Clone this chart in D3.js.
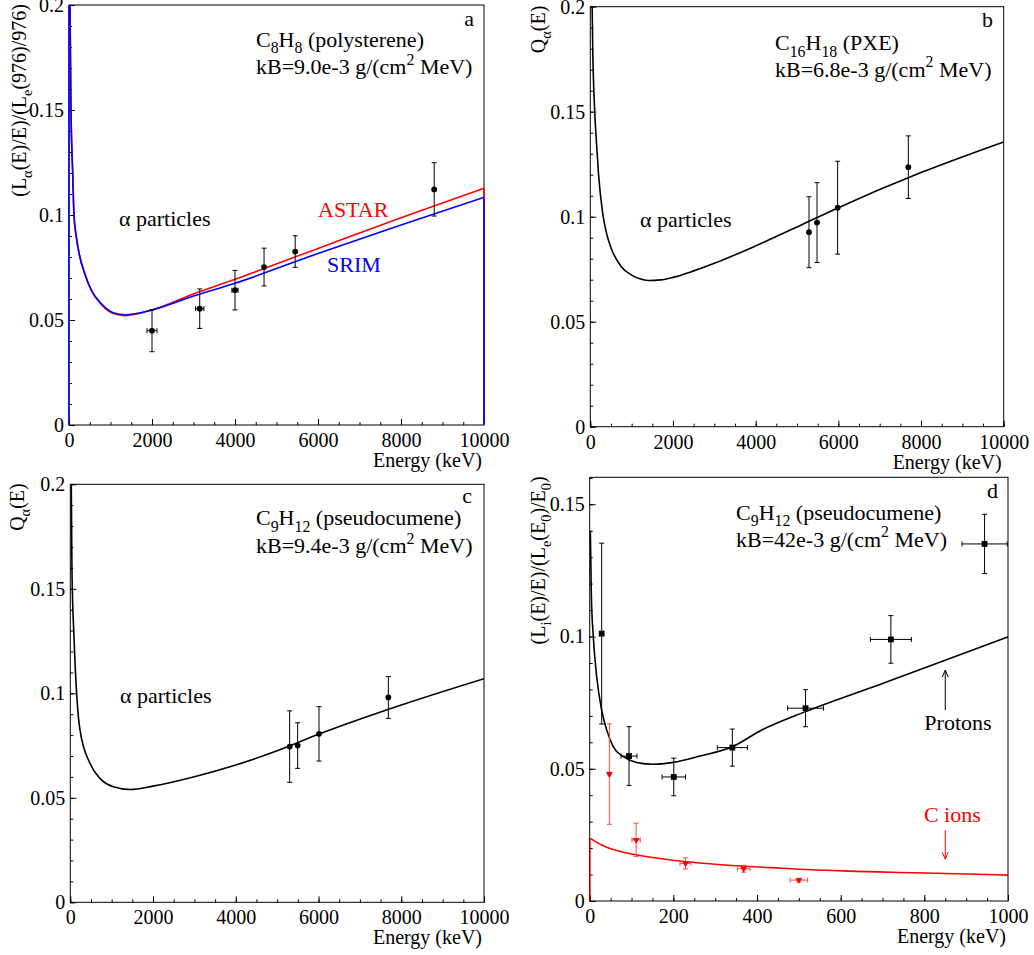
<!DOCTYPE html>
<html>
<head>
<meta charset="utf-8">
<script src="https://cdn.jsdelivr.net/npm/d3@7"></script>
<style>
	body { margin: 0; background: #fff; }
	svg { display: block; }
	text { font-family: "Liberation Serif", "Times New Roman", serif; }
</style>
</head>
<body>
<svg id="chart" width="1034" height="955"></svg>
<script>
// tick labels
var alphaTicksE = [0, 2000, 4000, 6000, 8000, 10000];
var alphaTicksQ = [0, 0.05, 0.1, 0.15, 0.2];
var ionTicksE = [0, 200, 400, 600, 800, 1000];
var ionTicksQ = [0, 0.05, 0.1, 0.15];

// panel a : C8H8, alpha particles
var polyE = [2000, 3150, 4000, 4700, 5450, 8800];
var polyQ = [0.0449, 0.0554, 0.0642, 0.0752, 0.0826, 0.1122];
var polyErrE = [120, 100, 75, 0, 0, 0];
var polyErrQ = [0.0100, 0.0094, 0.0094, 0.0090, 0.0075, 0.0127];
var polyCurveE = [12, 24, 48, 89, 120, 169, 248, 386, 546, 787, 1068, 1350, 2000, 3000, 4000, 6000, 8000, 10000];
var astarQ = [0.26, 0.2, 0.15, 0.12, 0.1, 0.0905, 0.0811, 0.0716, 0.0637, 0.0572, 0.0531, 0.0521, 0.0548, 0.0624, 0.0694, 0.0841, 0.0987, 0.1127];
var srimQ = [0.26, 0.2, 0.15, 0.12, 0.1, 0.0907, 0.0813, 0.0718, 0.064, 0.0576, 0.0535, 0.0525, 0.0548, 0.0614, 0.0675, 0.0817, 0.0952, 0.1084];

// panel b : C16H18 (PXE)
var pxeE = [5290, 5484, 5983, 7693];
var pxeQ = [0.0926, 0.0972, 0.1043, 0.1236];
var pxeErrQ = [0.0169, 0.0190, 0.0221, 0.0149];
var pxeCurveE = [30, 45, 60, 100, 150, 200, 300, 400, 500, 750, 1000, 1200, 1400, 1700, 2000, 2500, 3000, 4000, 5000, 6000, 8000, 10000];
var pxeCurveQ = [0.22, 0.2, 0.179, 0.153, 0.135, 0.12, 0.1016, 0.0915, 0.0852, 0.0762, 0.0722, 0.0704, 0.0696, 0.0699, 0.0711, 0.0742, 0.0778, 0.0861, 0.0951, 0.1043, 0.121, 0.1356];

// panel c : C9H12 (pseudocumene), alphas
var pcE = [5303, 5496, 6012, 7688];
var pcQ = [0.0745, 0.0750, 0.0806, 0.0980];
var pcErrQ = [0.0171, 0.0109, 0.0130, 0.0100];
var pcCurveE = [20, 40, 89, 169, 234, 475, 717, 1040, 1442, 2000, 3000, 4000, 5000, 6000, 8000, 10000];
var pcCurveQ = [0.21, 0.159, 0.127, 0.0952, 0.0825, 0.0665, 0.0593, 0.0553, 0.054, 0.0556, 0.0601, 0.0657, 0.0725, 0.0804, 0.0944, 0.107];

// panel d : protons and C ions
var protonE = [28.6, 94, 201, 341, 516, 720, 944];
var protonQ = [0.1011, 0.0548, 0.0469, 0.0580, 0.0729, 0.0989, 0.1350];
var protonErrE = [4, 19, 28, 36, 43, 49, 54];
var protonErrQ = [0.0342, 0.0111, 0.0071, 0.0070, 0.0070, 0.0090, 0.0112];
var protonCurveE = [1.5, 4, 8.6, 16.7, 28.6, 40.6, 56.5, 80.5, 112, 152, 200, 264, 341, 407, 516, 700, 1000];
var protonCurveQ = [0.14, 0.115, 0.1, 0.0848, 0.0722, 0.0647, 0.0583, 0.0546, 0.0524, 0.0517, 0.0524, 0.0548, 0.0583, 0.0643, 0.0716, 0.0822, 0.0999];

var carbonE = [47, 111, 229, 368, 500];
var carbonQ = [0.0480, 0.0231, 0.0142, 0.0122, 0.0079];
var carbonErrE = [3, 10, 13, 15, 21];
var carbonErrQ = [0.0190, 0.0063, 0.0021, 0.0013, 0.0007];
var carbonCurveE = [1.5, 28.6, 60.5, 100, 180, 300, 459, 618, 778, 1000];
var carbonCurveQ = [0.0237, 0.0212, 0.0193, 0.0178, 0.0158, 0.0139, 0.0124, 0.0113, 0.0107, 0.0098];

var RED = "#ff0000";
var BLUE = "#0000ff";
var TICK_FONT = 20;
var NOTE_FONT = 22;

var svg = d3.select("#chart");

function formatQ(d) {
	return d == 0 ? "0" : String(+d.toFixed(2));
}

// text with sub/superscripts: parts = [[string, ""|"sub"|"sup"], ...]
function richText(sel, parts, size) {
	var shift = 0;
	parts.forEach(function(pt) {
		var target = pt[1] == "sub" ? size * 0.3 : (pt[1] == "sup" ? -size * 0.42 : 0);
		var t = sel.append("tspan")
			.attr("dy", target - shift)
			.text(pt[0]);
		if( pt[1] ) {
			t.attr("font-size", size * 0.72);
		}
		shift = target;
	});
}

function drawFrame(p) {
	p.x = d3.scaleLinear().domain(p.xDomain).range([p.left, p.right]);
	p.y = d3.scaleLinear().domain(p.yDomain).range([p.bottom, p.top]);
	p.g = svg.append("g").attr("id", "panel_" + p.name);

	p.g.append("clipPath")
		.attr("id", "clip_" + p.name)
		.append("rect")
			.attr("x", p.left)
			.attr("y", p.top)
			.attr("width", p.right - p.left)
			.attr("height", p.bottom - p.top);

	// minor ticks, pointing into the frame
	p.g.append("g")
		.attr("transform", "translate(0," + p.bottom + ")")
		.call(d3.axisBottom(p.x).tickValues(p.xMinor).tickSize(-3).tickFormat(""))
		.call(function(g) { g.select(".domain").remove(); });
	p.g.append("g")
		.attr("transform", "translate(" + p.left + ",0)")
		.call(d3.axisLeft(p.y).tickValues(p.yMinor).tickSize(-3).tickFormat(""))
		.call(function(g) { g.select(".domain").remove(); });

	var xa = p.g.append("g")
		.attr("transform", "translate(0," + p.bottom + ")")
		.call(d3.axisBottom(p.x).tickValues(p.xTicks).tickSizeInner(-6).tickSizeOuter(0).tickPadding(8).tickFormat(d3.format("d")));
	var ya = p.g.append("g")
		.attr("transform", "translate(" + p.left + ",0)")
		.call(d3.axisLeft(p.y).tickValues(p.yTicks).tickSizeInner(-6).tickSizeOuter(0).tickPadding(5).tickFormat(formatQ));
	[xa, ya].forEach(function(a) {
		a.attr("font-size", TICK_FONT)
			.attr("font-family", "Liberation Serif, serif");
		a.selectAll("text").attr("fill", "#000");
		a.select(".domain").remove();
	});

	p.g.append("rect")
		.attr("x", p.left)
		.attr("y", p.top)
		.attr("width", p.right - p.left)
		.attr("height", p.bottom - p.top)
		.attr("fill", "none")
		.attr("stroke", "#000")
		.attr("stroke-width", 1);

	// axis titles
	p.g.append("text")
		.attr("x", p.right - 2)
		.attr("y", p.bottom + 42)
		.attr("text-anchor", "end")
		.attr("font-size", TICK_FONT)
		.attr("fill", "#000")
		.text("Energy (keV)");

	var yt = p.g.append("text")
		.attr("transform", "translate(" + p.yTitleX + "," + (p.top - 1) + ") rotate(-90)")
		.attr("text-anchor", "end")
		.attr("font-size", TICK_FONT)
		.attr("fill", "#000");
	richText(yt, p.yTitle, TICK_FONT);
}

function drawCurve(p, es, qs, color) {
	var line = d3.line()
		.x(function(d) { return p.x(d[0]); })
		.y(function(d) { return p.y(d[1]); })
		.curve(d3.curveMonotoneX);
	p.g.append("path")
		.datum(d3.zip(es, qs))
		.attr("clip-path", "url(#clip_" + p.name + ")")
		.attr("d", line)
		.attr("fill", "none")
		.attr("stroke", color)
		.attr("stroke-width", 1.6);
}

// vertical drop of a curve to zero at energy e
function drawDrop(p, e, q, color) {
	p.g.append("line")
		.attr("x1", p.x(e)).attr("x2", p.x(e))
		.attr("y1", p.y(q)).attr("y2", p.y(0))
		.attr("stroke", color)
		.attr("stroke-width", 1.6);
}

function drawPoints(p, es, qs, errE, errQ, color, shape, barColor) {
	var cap = 2.5;
	var pts = es.map(function(e, i) {
		return {e: e, q: qs[i], de: errE ? errE[i] : 0, dq: errQ[i]};
	});
	var bars = p.g.append("g")
		.attr("stroke", barColor || color)
		.attr("stroke-width", 1)
		.attr("fill", "none");
	pts.forEach(function(d) {
		var cx = p.x(d.e), cy = p.y(d.q);
		var y1 = p.y(d.q - d.dq), y2 = p.y(d.q + d.dq);
		var path = "M" + cx + "," + y1 + "V" + y2 +
			"M" + (cx - cap) + "," + y1 + "H" + (cx + cap) +
			"M" + (cx - cap) + "," + y2 + "H" + (cx + cap);
		if( d.de > 0 ) {
			var x1 = p.x(d.e - d.de), x2 = p.x(d.e + d.de);
			path += "M" + x1 + "," + cy + "H" + x2 +
				"M" + x1 + "," + (cy - cap) + "V" + (cy + cap) +
				"M" + x2 + "," + (cy - cap) + "V" + (cy + cap);
		}
		bars.append("path").attr("d", path);
	});

	var sym = shape == "square" ? d3.symbol(d3.symbolSquare, 34) :
		(shape == "triangle" ? d3.symbol(d3.symbolTriangle, 20) : d3.symbol(d3.symbolCircle, 26));
	p.g.append("g")
		.selectAll("path")
		.data(pts)
		.enter().append("path")
			.attr("d", sym)
			.attr("transform", function(d) {
				return "translate(" + p.x(d.e) + "," + p.y(d.q) + ")" + (shape == "triangle" ? " rotate(180)" : "");
			})
			.attr("fill", color);
}

function drawNote(p, e, q, parts, color, anchor, size) {
	var t = p.g.append("text")
		.attr("x", p.x(e))
		.attr("y", p.y(q))
		.attr("text-anchor", anchor || "start")
		.attr("font-size", size || NOTE_FONT)
		.attr("fill", color || "#000");
	richText(t, parts, size || NOTE_FONT);
}

function drawArrow(p, e, qFrom, qTo, color) {
	var x = p.x(e), y1 = p.y(qFrom), y2 = p.y(qTo);
	var dir = y2 < y1 ? 1 : -1;
	p.g.append("path")
		.attr("d", "M" + x + "," + y1 + "V" + y2 +
			"M" + (x - 3) + "," + (y2 + dir * 7) + "L" + x + "," + y2 + "L" + (x + 3) + "," + (y2 + dir * 7))
		.attr("fill", "none")
		.attr("stroke", color)
		.attr("stroke-width", 1);
}

var alphaMinorE = d3.range(0, 10001, 500);
var alphaMinorQ = d3.range(0, 21).map(function(i) { return i / 100; });

var panelA = {name: "a", left: 69, right: 484, top: 5, bottom: 425,
	xDomain: [0, 10000], yDomain: [0, 0.2], xTicks: alphaTicksE, yTicks: alphaTicksQ,
	xMinor: alphaMinorE, yMinor: alphaMinorQ, yTitleX: 26,
	yTitle: [["(L", ""], ["\u03b1", "sub"], ["(E)/E)/(L", ""], ["e", "sub"], ["(976)/976)", ""]]};
var panelB = {name: "b", left: 590.3, right: 1003.7, top: 6.7, bottom: 426.7,
	xDomain: [0, 10000], yDomain: [0, 0.2], xTicks: alphaTicksE, yTicks: alphaTicksQ,
	xMinor: alphaMinorE, yMinor: alphaMinorQ, yTitleX: 545,
	yTitle: [["Q", ""], ["\u03b1", "sub"], ["(E)", ""]]};
var panelC = {name: "c", left: 70.3, right: 484, top: 484.3, bottom: 902.3,
	xDomain: [0, 10000], yDomain: [0, 0.2], xTicks: alphaTicksE, yTicks: alphaTicksQ,
	xMinor: alphaMinorE, yMinor: alphaMinorQ, yTitleX: 24,
	yTitle: [["Q", ""], ["\u03b1", "sub"], ["(E)", ""]]};
var panelD = {name: "d", left: 589.7, right: 1008, top: 477.3, bottom: 901,
	xDomain: [0, 1000], yDomain: [0, 0.1602], xTicks: ionTicksE, yTicks: ionTicksQ,
	xMinor: d3.range(0, 1001, 50), yMinor: d3.range(0, 17).map(function(i) { return i / 100; }), yTitleX: 545,
	yTitle: [["(L", ""], ["i", "sub"], ["(E)/E)/(L", ""], ["e", "sub"], ["(E", ""], ["0", "sub"], [")/E", ""], ["0", "sub"], [")", ""]]};

[panelA, panelB, panelC, panelD].forEach(drawFrame);

// a
drawDrop(panelA, 0, 0.2, BLUE);
drawCurve(panelA, polyCurveE, astarQ, RED);
drawCurve(panelA, polyCurveE, srimQ, BLUE);
drawDrop(panelA, 10000, astarQ[astarQ.length - 1], RED);
drawDrop(panelA, 10000, srimQ[srimQ.length - 1], BLUE);
drawPoints(panelA, polyE, polyQ, polyErrE, polyErrQ, "#000", "circle");
drawNote(panelA, 9759, 0.19, [["a", ""]], "#000", "end");
drawNote(panelA, 4506, 0.1801, [["C", ""], ["8", "sub"], ["H", ""], ["8", "sub"], [" (polysterene)", ""]]);
drawNote(panelA, 4506, 0.1671, [["kB=9.0e-3 g/(cm", ""], ["2", "sup"], [" MeV)", ""]]);
drawNote(panelA, 1205, 0.0948, [["\u03b1 particles", ""]]);
drawNote(panelA, 6000, 0.0992, [["ASTAR", ""]], RED);
drawNote(panelA, 6217, 0.0730, [["SRIM", ""]], BLUE);

// b
drawCurve(panelB, pxeCurveE, pxeCurveQ, "#000");
drawPoints(panelB, pxeE, pxeQ, null, pxeErrQ, "#000", "circle");
drawNote(panelB, 9741, 0.1905, [["b", ""]], "#000", "end");
drawNote(panelB, 4468, 0.1794, [["C", ""], ["16", "sub"], ["H", ""], ["18", "sub"], [" (PXE)", ""]]);
drawNote(panelB, 4468, 0.1667, [["kB=6.8e-3 g/(cm", ""], ["2", "sup"], [" MeV)", ""]]);
drawNote(panelB, 1202, 0.0952, [["\u03b1 particles", ""]]);

// c
drawCurve(panelC, pcCurveE, pcCurveQ, "#000");
drawPoints(panelC, pcE, pcQ, null, pcErrQ, "#000", "circle");
drawNote(panelC, 9710, 0.1909, [["c", ""]], "#000", "end");
drawNote(panelC, 4489, 0.1805, [["C", ""], ["9", "sub"], ["H", ""], ["12", "sub"], [" (pseudocumene)", ""]]);
drawNote(panelC, 4489, 0.1670, [["kB=9.4e-3 g/(cm", ""], ["2", "sup"], [" MeV)", ""]]);
drawNote(panelC, 1201, 0.0952, [["\u03b1 particles", ""]]);

// d
drawDrop(panelD, 0, carbonCurveQ[0], "#b00000");
drawCurve(panelD, protonCurveE, protonCurveQ, "#000");
drawCurve(panelD, carbonCurveE, carbonCurveQ, RED);
drawPoints(panelD, protonE, protonQ, protonErrE, protonErrQ, "#000", "square");
drawPoints(panelD, carbonE, carbonQ, carbonErrE, carbonErrQ, RED, "triangle", "#ff4a4a");
drawNote(panelD, 976, 0.1523, [["d", ""]], "#000", "end");
drawNote(panelD, 349.8, 0.1441, [["C", ""], ["9", "sub"], ["H", ""], ["12", "sub"], [" (pseudocumene)", ""]]);
drawNote(panelD, 349.8, 0.1340, [["kB=42e-3 g/(cm", ""], ["2", "sup"], [" MeV)", ""]]);
drawNote(panelD, 800, 0.0647, [["Protons", ""]]);
drawNote(panelD, 799, 0.0300, [["C ions", ""]], RED);
drawArrow(panelD, 850, 0.0722, 0.0873, "#000");
drawArrow(panelD, 850, 0.0268, 0.0158, RED);
</script>
</body>
</html>
